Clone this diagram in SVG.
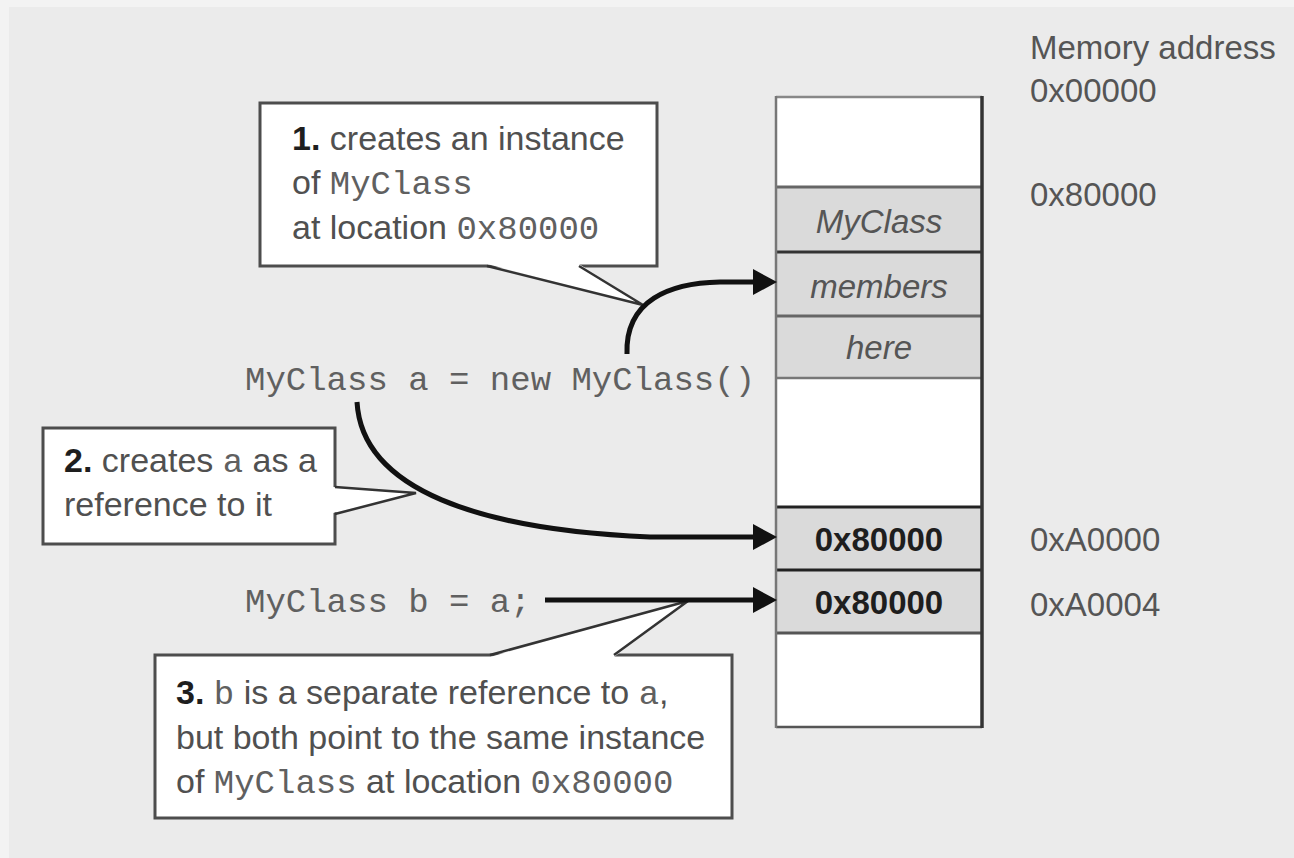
<svg xmlns="http://www.w3.org/2000/svg" width="1294" height="858" viewBox="0 0 1294 858">
<style>
.sans{font-family:"Liberation Sans",Arial,sans-serif;font-size:34px;fill:#505050}
.mono{font-family:"Liberation Mono","Courier New",monospace;font-size:34px;fill:#606060}
.num{font-weight:bold;fill:#1e1e1e}
.addr{font-family:"Liberation Sans",Arial,sans-serif;font-size:33px;fill:#555}
.cell{font-family:"Liberation Sans",Arial,sans-serif;font-size:33px;fill:#555;font-style:italic;text-anchor:middle}
.val{font-family:"Liberation Sans",Arial,sans-serif;font-size:33px;fill:#1e1e1e;font-weight:bold;text-anchor:middle}
.box{fill:#fff;stroke:#4d4d4d;stroke-width:3}
.tail{fill:#fff;stroke:none}
.tailedge{fill:none;stroke:#333;stroke-width:2.5}
.conn{fill:none;stroke:#111;stroke-width:5}
.head{fill:#111}
.gray{fill:#dadada}
.white{fill:#fff}
</style>
<rect x="0" y="0" width="1294" height="858" fill="#f3f3f3"/>
<rect x="9" y="7" width="1285" height="851" fill="#ebebeb"/>

<g id="memory-column">
  <rect class="white" x="776" y="97" width="206" height="630"/>
  <rect class="gray" x="776" y="187" width="206" height="191"/>
  <rect class="gray" x="776" y="507" width="206" height="126"/>
  <line x1="776" y1="187" x2="982" y2="187" stroke="#666" stroke-width="3"/>
  <line x1="776" y1="252" x2="982" y2="252" stroke="#333" stroke-width="3"/>
  <line x1="776" y1="316" x2="982" y2="316" stroke="#666" stroke-width="3"/>
  <line x1="776" y1="378" x2="982" y2="378" stroke="#777" stroke-width="2.5"/>
  <line x1="776" y1="507" x2="982" y2="507" stroke="#222" stroke-width="3"/>
  <line x1="776" y1="570" x2="982" y2="570" stroke="#222" stroke-width="3"/>
  <line x1="776" y1="633" x2="982" y2="633" stroke="#555" stroke-width="3"/>
  <line x1="776" y1="97" x2="982" y2="97" stroke="#888" stroke-width="2.5"/>
  <line x1="776" y1="727" x2="982" y2="727" stroke="#555" stroke-width="2.5"/>
  <line x1="776" y1="96" x2="776" y2="728" stroke="#777" stroke-width="2.5"/>
  <line x1="982" y1="96" x2="982" y2="728" stroke="#333" stroke-width="3.5"/>
</g>
<g id="cell-myclass"><text class="cell" x="879" y="233">MyClass</text></g>
<g id="cell-members"><text class="cell" x="879" y="298">members</text></g>
<g id="cell-here"><text class="cell" x="879" y="359">here</text></g>
<g id="cell-a"><text class="val" x="879" y="551">0x80000</text></g>
<g id="cell-b"><text class="val" x="879" y="614">0x80000</text></g>

<g id="addresses">
  <text class="addr" x="1030" y="59">Memory address</text>
  <text class="addr" x="1030" y="102">0x00000</text>
  <text class="addr" x="1030" y="206">0x80000</text>
  <text class="addr" x="1030" y="551">0xA0000</text>
  <text class="addr" x="1030" y="616">0xA0004</text>
</g>

<g id="callout-1">
  <rect class="box" x="260" y="103" width="397" height="163"/>
  <polygon class="tail" points="487,264 643,305 579,264"/>
  <polyline class="tailedge" points="487,266 643,305 579,266"/>
  <text class="sans" x="292" y="150"><tspan class="num">1.</tspan> creates an instance</text>
  <text class="sans" x="292" y="194">of <tspan class="mono">MyClass</tspan></text>
  <text class="sans" x="292" y="239">at location <tspan class="mono">0x80000</tspan></text>
</g>

<g id="callout-2">
  <rect class="box" x="43" y="428" width="292" height="116"/>
  <polygon class="tail" points="333,487 416,493 333,513"/>
  <polyline class="tailedge" points="335,487 416,493 335,514"/>
  <text class="sans" x="64" y="472"><tspan class="num">2.</tspan> creates <tspan class="mono">a</tspan> as a</text>
  <text class="sans" x="64" y="516">reference to it</text>
</g>

<g id="callout-3">
  <rect class="box" x="155" y="655" width="577" height="163"/>
  <polygon class="tail" points="490,657 688,601 614,657"/>
  <polyline class="tailedge" points="490,655 688,601 614,655"/>
  <text class="sans" x="176" y="704"><tspan class="num">3.</tspan> <tspan class="mono">b</tspan> is a separate reference to <tspan class="mono">a</tspan>,</text>
  <text class="sans" x="176" y="749">but both point to the same instance</text>
  <text class="sans" x="176" y="793">of <tspan class="mono">MyClass</tspan> at location <tspan class="mono">0x80000</tspan></text>
</g>

<g id="code-1"><text class="mono" x="245" y="390">MyClass a = new MyClass()</text></g>
<g id="code-2"><text class="mono" x="245" y="612">MyClass b = a;</text></g>

<g id="connectors">
  <path class="conn" d="M 627 354 C 625 300 670 283 720 282 L 756 282"/>
  <polygon class="head" points="777,282 753,269 753,295"/>
  <path class="conn" d="M 357 402 C 362 490 480 530 650 537 L 756 537"/>
  <polygon class="head" points="777,537 753,524 753,550"/>
  <path class="conn" d="M 545 600 L 756 600"/>
  <polygon class="head" points="777,600 753,587 753,613"/>
</g>
</svg>
